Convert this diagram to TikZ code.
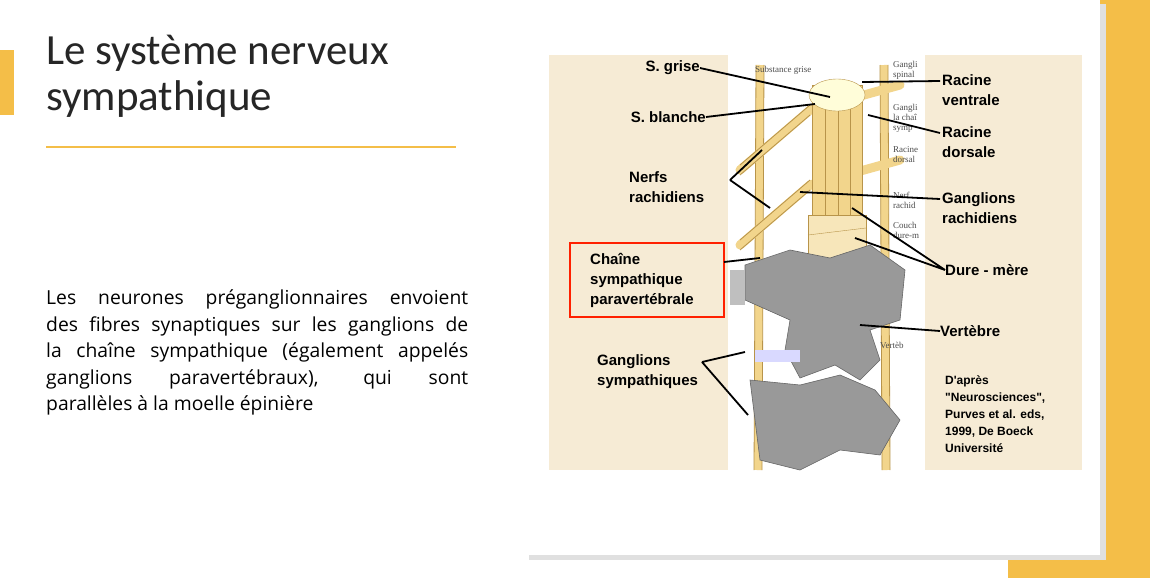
\documentclass[tikz,border=0pt]{standalone}
\usepackage{fontspec}
\setmainfont{Carlito}
\newfontfamily\lab{Liberation Sans}
\newfontfamily\ser{Liberation Serif}
\newfontfamily\bodyf{Open Sans}
\definecolor{accent}{HTML}{F4BE48}
\definecolor{beige}{HTML}{F6EBD5}
\definecolor{nerv}{HTML}{F2D58C}
\definecolor{nervd}{HTML}{B8944A}
\begin{document}
\begin{tikzpicture}[x=1pt,y=-1pt,
  lbl/.style={font=\lab\bfseries\fontsize{15}{20}\selectfont,align=left,inner sep=0},
  ptr/.style={line width=1.8pt,black},
  small/.style={font=\ser\fontsize{9}{10}\selectfont,text=black!70,align=left,inner sep=0,anchor=west},
  bone/.style={draw=black!60,fill=black!40,line width=0.6pt}]
\useasboundingbox (0,0) rectangle (1150,578);
\fill[white] (0,0) rectangle (1150,578);
% side decorations
\fill[accent] (0,50) rectangle (14,115);
\fill[accent] (1008,0) rectangle (1150,578);
\fill[black!12] (529,4) rectangle (1106,560);
\fill[white] (525,0) rectangle (1100,555);
% title
\node[anchor=north west,align=left,inner sep=0,font=\fontsize{43}{46}\selectfont,text=black!85] (title) at (46,35) {Le système nerveux\\sympathique};
\draw[accent,line width=2.2pt] (46,147) -- (456,147);
\node[anchor=north west,inner sep=0,text width=422pt,align=justify,font=\bodyf\fontsize{19.3}{26.5}\selectfont] (body) at (46,290)
 {Les neurones préganglionnaires envoient\linebreak des fibres synaptiques sur les ganglions de\linebreak la chaîne sympathique (également appelés\linebreak ganglions paravertébraux), qui sont\linebreak parallèles à la moelle épinière};
% image
\fill[beige] (549,55) rectangle (1082,470);
\fill[white] (728,55) rectangle (925,470);
% chains
\foreach \xa/\xb in {760/758,884/886} {
 \draw[line width=8pt,nerv] (\xa,65) -- (\xb,470);
 \draw[line width=0.8pt,nervd] (\xa-4,65) -- (\xb-4,470) (\xa+4,65) -- (\xb+4,470);
}
% nerves
\foreach \y in {110,185} {
 \draw[line width=9pt,nerv,line cap=round] (740,\y+60) -- (810,\y) -- (900,\y-25);
 \draw[line width=0.8pt,nervd] (740,\y+55) -- (810,\y-5) (740,\y+65) -- (810,\y+5);
}
% cord
\fill[nerv,draw=nervd] (812,85) rectangle (862,300);
\draw[nervd] (825,85) -- (825,300) (838,85)--(838,300) (850,85)--(850,300);
\fill[nerv!60,draw=nervd] (808,215) rectangle (866,300);
\draw[nervd] (808,235) -- (866,228);
\fill[yellow!15!white,draw=nervd] (837,95) ellipse (28 and 16);
% vertebrae
\draw[bone] (745,265) -- (790,250) -- (830,258) -- (870,245) -- (905,270) -- (900,320) -- (870,330) -- (880,360) -- (860,380) -- (835,365) -- (800,378) -- (785,350) -- (790,320) -- (745,300) -- cycle;
\draw[bone] (750,380) -- (800,385) -- (840,375) -- (875,390) -- (900,420) -- (880,455) -- (840,450) -- (800,470) -- (760,460) -- cycle;
\fill[black!25] (730,270) rectangle (745,305);
\fill[blue!15] (755,350) rectangle (800,362);
% tiny labels
\begin{scope}
\clip (728,55) rectangle (925,470);
\node[small] (t1) at (755,70) {Substance grise};
\node[small] (t2) at (893,70) {Gangli\\spinal};
\node[small] (t3) at (893,118) {Gangli\\la chaî\\symp};
\node[small] (t4) at (893,155) {Racine\\dorsal};
\node[small] (t5) at (893,200) {Nerf\\rachid};
\node[small] (t6) at (893,230) {Couch\\dure-m};
\node[small] (t7) at (880,345) {Vertèb};
\end{scope}
% labels
\node[lbl,anchor=east] (sg) at (700,68) {S. grise};
\node[lbl,anchor=east] (sb) at (706,117) {S. blanche};
\node[lbl,anchor=west] (nr) at (629,187) {Nerfs\\rachidiens};
\node[lbl,anchor=west] (rv) at (942,90) {Racine\\ventrale};
\node[lbl,anchor=west] (rd) at (942,142) {Racine\\dorsale};
\node[lbl,anchor=west] (gr) at (942,208) {Ganglions\\rachidiens};
\node[lbl,anchor=west] (dm) at (945,270) {Dure - mère};
\node[lbl,anchor=west] (ve) at (940,331) {Vertèbre};
\node[lbl,anchor=west] (gs) at (597,372) {Ganglions\\sympathiques};
\node[lbl,anchor=west] (cs) at (590,280) {Chaîne\\sympathique\\paravertébrale};
\draw[red!75!orange,line width=2.5pt] (570,243) rectangle (724,317);
\node[anchor=north west,inner sep=0,align=left,font=\lab\bfseries\fontsize{12}{17}\selectfont] (src) at (945,375)
 {D'après\\"Neurosciences",\\Purves et al. eds,\\1999, De Boeck\\Université};
% pointers
\coordinate (p1) at (830,97); \coordinate (p2) at (815,104);
\coordinate (p3) at (762,150); \coordinate (p4) at (770,208);
\coordinate (p5) at (862,82); \coordinate (p6) at (868,115);
\coordinate (p7) at (800,192); \coordinate (p8) at (852,208); \coordinate (p9) at (855,238);
\coordinate (p10) at (760,258); \coordinate (p11) at (860,325);
\coordinate (p12) at (745,352); \coordinate (p13) at (748,415);
\draw[ptr] (sg.east) -- (p1);
\draw[ptr] (sb.east) -- (p2);
\draw[ptr] (730,180) -- (p3) (730,180) -- (p4);
\draw[ptr] (rv.west) ++(-2,-9) -- (p5);
\draw[ptr] (rd.west) ++(-2,-9) -- (p6);
\draw[ptr] (gr.west) ++(-2,-9) -- (p7);
\draw[ptr] (dm.west) -- (p8) (dm.west) -- (p9);
\draw[ptr] (724,262) -- (p10);
\draw[ptr] (ve.west) -- (p11);
\draw[ptr] (702,362) -- (p12) (702,362) -- (p13);
\end{tikzpicture}
\end{document}
